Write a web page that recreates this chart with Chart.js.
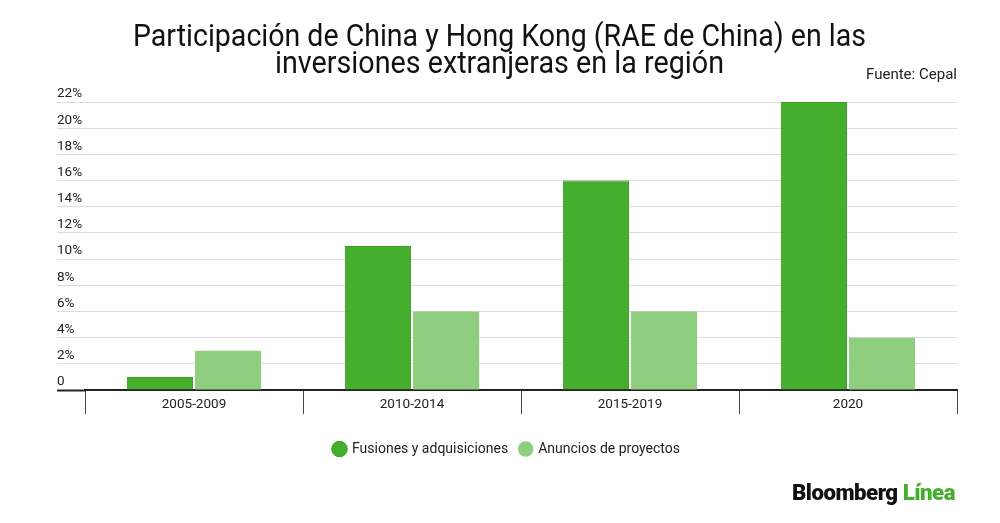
<!DOCTYPE html>
<html>
<head>
<meta charset="utf-8">
<script src="https://cdn.jsdelivr.net/npm/chart.js@4.4.1/dist/chart.umd.min.js"></script>
<style>
  html, body { margin: 0; padding: 0; background: #fff; }
  #wrap { position: relative; width: 1000px; height: 523px; overflow: hidden; font-family: Roboto, "Noto Sans", sans-serif; }
  #c { position: absolute; left: 0; top: 0; }
  .t { position: absolute; white-space: nowrap; transform-origin: 0 0; color: #111; line-height: 1; }
  #title1, #title2 { font-size: 31px; font-weight: 400; }
  #src { font-size: 14.5px; color: #222; }
  #logo { font-size: 22px; font-weight: 900; letter-spacing: -0.5px; color: #111; }
  #logo span { color: #45ae2c; }
</style>
</head>
<body>
<div id="wrap">
  <canvas id="c" width="1000" height="523"></canvas>
  <div class="t" id="title1">Participación de China y Hong Kong (RAE de China) en las</div>
  <div class="t" id="title2">inversiones extranjeras en la región</div>
  <div class="t" id="src">Fuente: Cepal</div>
  <div class="t" id="logo">Bloomberg <span>Línea</span></div>
</div>
<script>
const categories = ["2005-2009", "2010-2014", "2015-2019", "2020"];
const fusiones = [1, 11, 16, 22];
const anuncios = [3, 6, 6, 4];
const seriesNames = ["Fusiones y adquisiciones", "Anuncios de proyectos"];
const yTicks = [0, 2, 4, 6, 8, 10, 12, 14, 16, 18, 20, 22];

// fit HTML text blocks to measured reference widths
function place(id, left, top, width) {
  const el = document.getElementById(id);
  const w = el.getBoundingClientRect().width;
  const s = width / w;
  el.style.left = left + 'px';
  el.style.top = top + 'px';
  el.style.transform = 'scaleX(' + s + ')';
}
place('title1', 133, 20, 733);
place('title2', 275, 47, 449);
place('src', 866, 68, 91);
place('logo', 792, 482, 163);

const ctx = document.getElementById('c').getContext('2d');
new Chart(ctx, {
  type: 'bar',
  data: {
    labels: categories,
    datasets: [
      { label: seriesNames[0], data: fusiones, backgroundColor: '#45ae2c', borderColor: '#3a9f24', borderWidth: 1 },
      { label: seriesNames[1], data: anuncios, backgroundColor: '#8fce7f', borderColor: '#8fce7f', borderWidth: 0 }
    ]
  },
  options: {
    responsive: false,
    animation: false,
    devicePixelRatio: 1,
    layout: { padding: { left: 57, right: 43, top: 102, bottom: 57 } },
    datasets: { bar: { categoryPercentage: 0.625, barPercentage: 0.97 } },
    plugins: {
      title: { display: false },
      tooltip: { enabled: false },
      legend: {
        position: 'bottom',
        labels: {
          usePointStyle: true,
          pointStyle: 'circle',
          boxWidth: 11,
          boxHeight: 11,
          padding: 12,
          color: '#222',
          font: { family: 'Roboto', size: 14 }
        }
      }
    },
    scales: {
      x: {
        grid: {
          offset: true,
          drawOnChartArea: false,
          drawTicks: true,
          tickLength: 24,
          tickColor: '#444',
          tickWidth: 1
        },
        border: { display: true, color: '#222', width: 2 },
        ticks: { color: '#222', padding: -17, font: { family: 'Roboto', size: 13.5 } },
        afterFit: (s) => { s.height = 40; }
      },
      y: {
        min: 0,
        max: 22,
        afterBuildTicks: (s) => { s.ticks = yTicks.map(v => ({ value: v })); },
        grid: {
          color: '#dcdcdc',
          lineWidth: 1,
          tickLength: 28,
          tickColor: (c) => (c.tick && c.tick.value === 0) ? '#222' : '#dcdcdc',
          tickWidth: (c) => (c.tick && c.tick.value === 0) ? 2 : 1
        },
        border: { display: false },
        ticks: {
          color: '#222',
          crossAlign: 'far',
          padding: 0,
          labelOffset: -8,
          font: { family: 'Roboto', size: 13.5 },
          callback: (v) => v === 0 ? '0' : v + '%'
        },
        afterFit: (s) => { s.width = 28; }
      }
    }
  }
});
</script>
</body>
</html>
